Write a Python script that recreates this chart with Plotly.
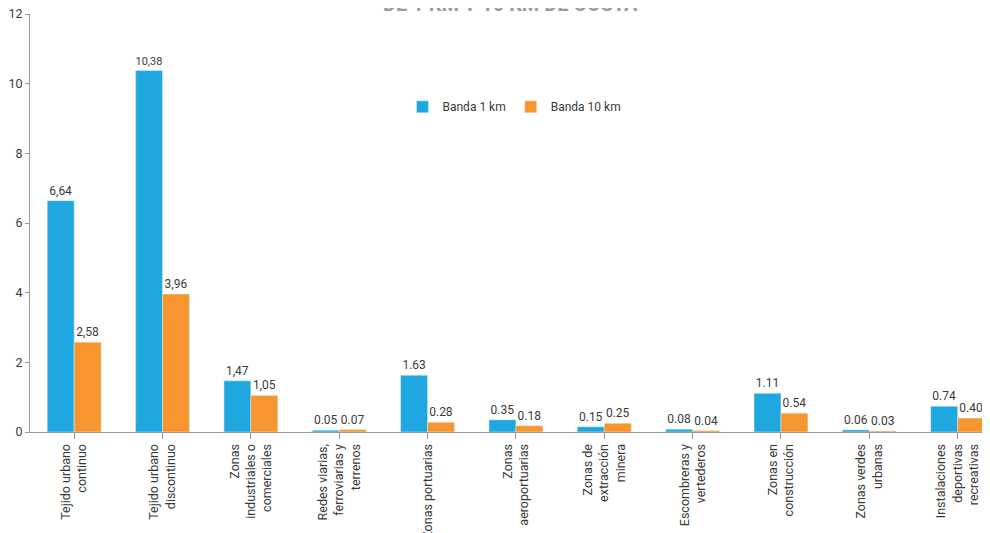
import plotly.graph_objects as go

categories = ["Tejido urbano<br>continuo", "Tejido urbano<br>discontinuo",
              "Zonas<br>industriales o<br>comerciales",
              "Redes viarias,<br>ferroviarias y<br>terrenos", "Zonas portuarias",
              "Zonas<br>aeroportuarias", "Zonas de<br>extracción<br>minera",
              "Escombreras y<br>vertederos", "Zonas en<br>construcción",
              "Zonas verdes<br>urbanas", "Instalaciones<br>deportivas<br>recreativas"]
banda1 = [6.64, 10.38, 1.47, 0.05, 1.63, 0.35, 0.15, 0.08, 1.11, 0.06, 0.74]
banda10 = [2.58, 3.96, 1.05, 0.07, 0.28, 0.18, 0.25, 0.04, 0.54, 0.03, 0.40]
banda1_txt = ["6,64", "10,38", "1,47", "0.05", "1.63", "0.35", "0.15", "0.08", "1.11", "0.06", "0.74"]
banda10_txt = ["2,58", "3,96", "1,05", "0.07", "0.28", "0.18", "0.25", "0.04", "0.54", "0.03", "0.40"]
y_ticks = [0, 2, 4, 6, 8, 10, 12]

FONT = "Roboto, Liberation Sans, sans-serif"
TXT = "#3a3a3a"
x = list(range(len(categories)))

fig = go.Figure()
fig.add_trace(go.Bar(x=x, y=banda1, name="Banda 1 km", marker_color="#1FA8E0",
                     text=banda1_txt, textposition="outside", cliponaxis=False,
                     textfont=dict(size=12, color=TXT, family=FONT)))
fig.add_trace(go.Bar(x=x, y=banda10, name="Banda 10 km", marker_color="#F7962F",
                     text=banda10_txt, textposition="outside", cliponaxis=False,
                     textfont=dict(size=12, color=TXT, family=FONT)))

# page body has an 8px margin: margins compensate so the plot lands where the reference has it
fig.update_layout(
    width=990, height=533,
    margin=dict(l=22, r=8, t=6, b=109),
    plot_bgcolor="white", paper_bgcolor="white",
    barmode="group", bargap=0.39, bargroupgap=0,
    font=dict(family=FONT, size=12, color=TXT),
    showlegend=True,
    legend=dict(orientation="h", x=0.388, y=0.778, xanchor="left", yanchor="middle",
                font=dict(size=12, color=TXT), itemwidth=30, bgcolor="rgba(0,0,0,0)"),
    xaxis=dict(tickmode="array", tickvals=x, ticktext=categories, tickangle=-90,
               range=[-0.5, 10.366], showline=True, linecolor="#9a9a9a", linewidth=1,
               ticks="outside", tickson="boundaries", ticklen=6, tickcolor="#9a9a9a",
               showgrid=False, automargin=False, tickfont=dict(size=12.5, color=TXT)),
    yaxis=dict(range=[0, 12], tickvals=y_ticks, showline=True, linecolor="#9a9a9a",
               linewidth=1, ticks="outside", ticklen=4, tickcolor="#9a9a9a",
               showgrid=False, zeroline=False, automargin=False,
               ticklabeloverflow="allow",
               tickfont=dict(size=12.5, color=TXT)),
    annotations=[
        dict(text="DE 1 KM Y 10 KM DE COSTA", xref="paper", yref="paper", x=0.5, y=1,
             xanchor="center", yanchor="bottom", yshift=-4, showarrow=False,
             font=dict(size=20, color="#9b9b9b", family="Roboto, sans-serif", weight="bold")),
        dict(text="%", xref="paper", yref="paper", x=0, y=1, xanchor="right",
             xshift=-9, yanchor="bottom", yshift=4, showarrow=False,
             font=dict(size=10, color=TXT)),
    ],
)

fig.write_html("out.html")
